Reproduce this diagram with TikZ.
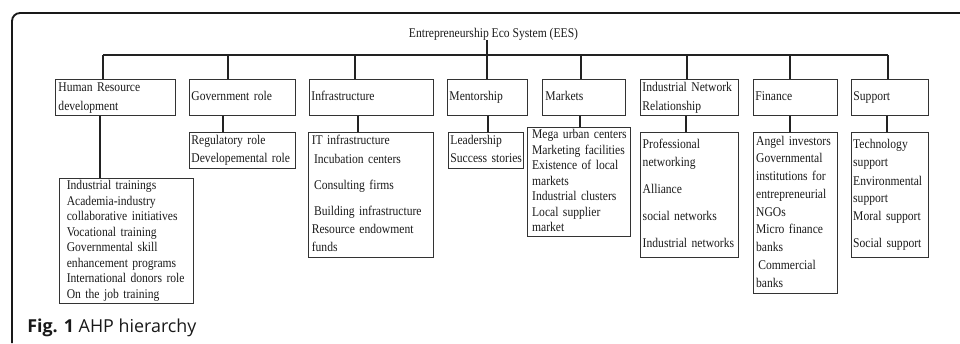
\documentclass[tikz,border=0pt]{standalone}
\usepackage{fontspec}
\setmainfont{Liberation Serif}[FakeStretch=0.87]
\newfontfamily\capfont{Open Sans}
\usetikzlibrary{calc}
\definecolor{txt}{HTML}{1A1A1A}
\definecolor{boxc}{HTML}{333333}
\definecolor{linec}{HTML}{222222}
\newcommand{\boxfont}{\fontsize{10}{11.625}\selectfont}
\newcommand{\tb}[1]{\begin{tabular}{@{}l@{}}#1\end{tabular}}
\newcommand{\ind}{\hspace*{1.7pt}}
\tikzset{
  box/.style={draw=boxc, line width=0.7pt, anchor=north west, inner xsep=1.5pt, inner ysep=0pt,
    font=\boxfont, text=txt, align=left},
  topbox/.style={box, minimum height=27pt},
  conn/.style={draw=linec, line width=1pt},
  frame/.style={draw=black!90, line width=1.4pt, rounded corners=6pt},
}
\begin{document}
\begin{tikzpicture}[x=0.75pt, y=-0.75pt]
\useasboundingbox (0,0) rectangle (960,343);
% frame
\draw[frame] (12,343) -- (12,13) -- (960,13);
% title
\node[font=\boxfont, text=txt, anchor=base, inner sep=0pt] (title) at (493.5,37) {Entrepreneurship Eco System (EES)};
% top boxes
\node[topbox, text width=85.5pt, inner xsep=2.25pt] (t1) at (55,79) {\tb{Human Resource\\[2.6pt]development}};
\node[topbox, text width=76.5pt] (t2) at (189,79) {\tb{Government role}};
\node[topbox, text width=90pt] (t3) at (309,79) {\tb{Infrastructure}};
\node[topbox, text width=57pt] (t4) at (447,79) {\tb{Mentorship}};
\node[topbox, text width=57.75pt, inner xsep=2.25pt] (t5) at (542,79) {\tb{Markets}};
\node[topbox, text width=70.5pt] (t6) at (640,79) {\tb{Industrial Network\\[2.6pt]Relationship}};
\node[topbox, text width=60pt] (t7) at (753,79) {\tb{Finance}};
\node[topbox, text width=54.75pt] (t8) at (851,79) {\tb{Support}};
% bottom boxes
\node[box, text width=89.5pt, inner xsep=5.5pt, minimum height=93.75pt] (b1) at (59,178)
  {\tb{Industrial trainings\\Academia-industry\\collaborative initiatives\\Vocational training\\Governmental skill\\enhancement programs\\International donors role\\On the job training}};
\node[box, text width=76.5pt, minimum height=27pt] (b2) at (189,132)
  {\tb{Regulatory role\\[1.35pt]Developemental role}};
\node[box, text width=88.75pt, inner xsep=2.5pt, minimum height=93.75pt] (b3) at (308,132)
  {\tb{IT infrastructure\\[2.2pt]\ind Incubation centers\\[7.9pt]\ind Consulting firms\\[7.9pt]\ind Building infrastructure\\[1.9pt]Resource endowment\\[1.6pt]funds}};
\node[box, text width=53.25pt, minimum height=27pt] (b4) at (448,132)
  {\tb{Leadership\\[1.65pt]Success stories}};
\node[box, text width=70.25pt, inner xsep=3.5pt, minimum height=81.75pt] (b5) at (527,127)
  {\tb{Mega urban centers\\Marketing facilities\\Existence of local\\markets\\Industrial clusters\\Local supplier\\market}};
\node[box, text width=70.1pt, inner xsep=1.7pt, minimum height=93.75pt] (b6) at (640,132)
  {\tb{Professional\\[1.6pt]networking\\[8.9pt]Alliance\\[8.3pt]social networks\\[8.9pt]Industrial networks}};
\node[box, text width=59pt, inner xsep=2pt, minimum height=120.75pt] (b7) at (753,132)
  {\tb{Angel investors\\[1.7pt]Governmental\\[1.7pt]institutions for\\[1.7pt]entrepreneurial\\[1.7pt]NGOs\\[1.7pt]Micro finance\\[1.7pt]banks\\[1.7pt]\ind Commercial\\[1.7pt]banks}};
\node[box, text width=55.15pt, inner xsep=1.3pt, minimum height=93.75pt] (b8) at (851,132)
  {\tb{Technology\\[1.6pt]support\\[2.6pt]Environmental\\[1.65pt]support\\[1.35pt]Moral support\\[8.9pt]Social support}};
% bus coordinates (top drops) and bottom drop columns
\coordinate (c1) at (103,55);
\coordinate (c2) at (228,55);
\coordinate (c3) at (355,55);
\coordinate (c4) at (487,55);
\coordinate (c5) at (581,55);
\coordinate (c6) at (687,55);
\coordinate (c7) at (790,55);
\coordinate (c8) at (888,55);
\coordinate (d1) at (100,0);
\coordinate (d2) at (223,0);
\coordinate (d3) at (358,0);
\coordinate (d4) at (488,0);
\coordinate (d5) at (580,0);
\coordinate (d6) at (686,0);
\coordinate (d7) at (790,0);
\coordinate (d8) at (887,0);
% connectors
\draw[conn] (title.south -| c4) -- (c4);
\draw[conn] (c1) -- (c8);
\foreach \i in {1,...,8} {
  \draw[conn] (c\i) -- (c\i |- t\i.north);
}
\draw[conn, line width=1.9pt] (d1 |- t1.south) -- (d1 |- b1.north);
\foreach \i in {2,...,8} {
  \draw[conn] (d\i |- t\i.south) -- (d\i |- b\i.north);
}
% caption
\node[anchor=base west, inner sep=0pt, font=\capfont\fontsize{13.4}{16}\selectfont, text=black!90] (cap) at (27,332.7)
  {\textbf{Fig. 1} AHP hierarchy};
\end{tikzpicture}
\end{document}
